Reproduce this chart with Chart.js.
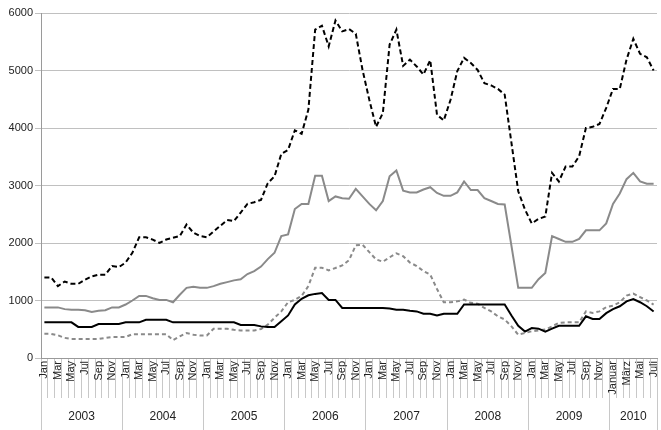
<!DOCTYPE html>
<html><head><meta charset="utf-8">
<script src="https://cdn.jsdelivr.net/npm/chart.js@4.4.1/dist/chart.umd.min.js"></script>
<style>html,body{margin:0;padding:0;background:#fff}#wrap{width:661px;height:430px;position:relative}</style>
</head><body><div id="wrap"><canvas id="c"></canvas></div>
<script>
const monthNames = ['Jan','Feb','Mar','Apr','May','Jun','Jul','Aug','Sep','Oct','Nov','Dec'];
const monthNames2010 = ['Januar','Februar','März','April','Mai','Juni','Juli'];
const years = ['2003','2004','2005','2006','2007','2008','2009','2010'];
const monthsPerYear = [12,12,12,12,12,12,12,7];
const yTicks = [0,1000,2000,3000,4000,5000,6000];

// black dashed
const seriesA = [1400,1400,1250,1330,1290,1290,1360,1420,1450,1450,1600,1580,
  1660,1830,2100,2100,2060,2000,2060,2090,2120,2320,2180,2120,
  2100,2200,2300,2400,2380,2530,2680,2710,2750,3040,3160,3550,
  3620,3960,3900,4320,5710,5780,5420,5870,5680,5720,5640,5010,
  4490,4020,4260,5450,5710,5080,5190,5070,4930,5180,4230,4130,
  4490,4990,5220,5130,5010,4780,4740,4680,4580,3740,2900,2580,
  2340,2420,2460,3220,3070,3330,3330,3510,4000,4020,4070,4350,
  4680,4680,5190,5550,5290,5230,5000];
// gray solid
const seriesB = [880,880,880,850,840,840,830,800,820,830,880,880,
  930,1000,1080,1080,1040,1010,1010,970,1100,1220,1240,1220,
  1220,1250,1290,1320,1350,1370,1460,1510,1590,1720,1830,2120,
  2150,2590,2680,2680,3170,3170,2730,2810,2780,2770,2940,2810,
  2680,2570,2730,3160,3260,2910,2880,2880,2930,2970,2870,2820,
  2820,2880,3070,2920,2920,2780,2730,2680,2670,1950,1220,1220,
  1220,1370,1480,2120,2070,2020,2020,2070,2220,2220,2220,2340,
  2680,2860,3110,3220,3070,3030,3030];
// black solid
const seriesC = [620,620,620,620,620,540,540,540,590,590,590,590,
  620,620,620,665,665,665,665,620,620,620,620,620,
  620,620,620,620,620,575,575,575,550,540,540,640,
  740,930,1030,1090,1115,1130,1010,1010,870,870,870,870,
  870,870,870,860,840,840,820,810,770,770,740,770,
  770,770,930,930,930,930,930,930,930,740,560,460,
  520,510,460,510,560,560,560,560,725,680,680,780,
  850,900,985,1025,970,900,810];
// gray dashed
const seriesD = [420,420,395,350,330,330,330,330,330,350,365,365,
  365,415,415,415,415,415,415,310,375,435,405,390,
  390,510,510,510,490,480,480,480,505,580,700,810,
  970,1010,1080,1250,1570,1570,1525,1565,1610,1700,1960,1970,
  1840,1715,1675,1750,1820,1770,1660,1600,1510,1450,1200,970,
  970,985,1015,960,945,870,810,725,670,550,405,435,
  465,480,495,550,610,620,620,620,810,785,810,885,
  910,970,1085,1120,1060,1000,930];

const monthLabels = [];
years.forEach((y, k) => {
  const names = (k === years.length - 1) ? monthNames2010 : monthNames;
  for (let m = 0; m < monthsPerYear[k]; m++) monthLabels.push(names[m]);
});

// year axis ticks: boundaries and centers
const yearTickValues = [], yearTickLabels = [], yearTickIsBoundary = [];
let start = 0;
years.forEach((y, k) => {
  yearTickValues.push(start - 0.5); yearTickLabels.push(''); yearTickIsBoundary.push(true);
  yearTickValues.push(start + (monthsPerYear[k] - 1) / 2); yearTickLabels.push(y); yearTickIsBoundary.push(false);
  start += monthsPerYear[k];
});
yearTickValues.push(start - 0.5); yearTickLabels.push(''); yearTickIsBoundary.push(true);

const FONT = 'Liberation Sans, Arial, sans-serif';
const lineBase = {pointRadius: 0, pointHoverRadius: 0, tension: 0, fill: false, borderWidth: 2};

new Chart(document.getElementById('c'), {
  type: 'line',
  data: {
    labels: monthLabels,
    datasets: [
      Object.assign({label: 'A', data: seriesA, borderColor: '#000', borderDash: [5,3]}, lineBase),
      Object.assign({label: 'B', data: seriesB, borderColor: '#8a8a8a'}, lineBase),
      Object.assign({label: 'C', data: seriesC, borderColor: '#000'}, lineBase),
      Object.assign({label: 'D', data: seriesD, borderColor: '#8a8a8a', borderDash: [4,3]}, lineBase)
    ]
  },
  options: {
    responsive: true,
    maintainAspectRatio: false,
    animation: false,
    layout: {padding: {top: 13, right: 4, left: 0, bottom: 0}},
    plugins: {legend: {display: false}, tooltip: {enabled: false}},
    scales: {
      x: {
        type: 'category',
        position: 'bottom',
        weight: 0,
        offset: true,
        grid: {offset: true, drawOnChartArea: false, drawTicks: true, tickLength: 40, color: '#c8c8c8', lineWidth: 1},
        border: {display: true, color: '#9a9a9a'},
        ticks: {
          autoSkip: false, minRotation: 90, maxRotation: 90, padding: -37,
          font: {family: FONT, size: 11}, color: '#222',
          callback: function(v, i) { return i % 2 === 0 ? monthLabels[i] : ''; }
        },
        afterFit: s => { s.height = 40; }
      },
      yr: {
        type: 'linear',
        position: 'bottom',
        weight: 1,
        min: -0.5, max: 90.5,
        bounds: 'data',
        afterBuildTicks: s => { s.ticks = yearTickValues.map(v => ({value: v})); },
        grid: {
          drawOnChartArea: false, drawTicks: true, tickLength: 32, lineWidth: 1,
          color: ctx => yearTickIsBoundary[ctx.index] ? '#c8c8c8' : 'rgba(0,0,0,0)'
        },
        border: {display: false},
        ticks: {
          autoSkip: false, maxRotation: 0, minRotation: 0, padding: -21,
          font: {family: FONT, size: 12}, color: '#222',
          callback: (v, i) => yearTickLabels[i]
        },
        afterFit: s => { s.height = 32; }
      },
      y: {
        min: 0, max: 6000,
        afterBuildTicks: s => { s.ticks = yTicks.map(v => ({value: v})); },
        grid: {color: '#c0c0c0', tickLength: 6, lineWidth: 1},
        border: {display: true, color: '#9a9a9a'},
        ticks: {padding: 2, font: {family: FONT, size: 11}, color: '#222', callback: v => String(v)},
        afterFit: s => { s.width = 41; }
      }
    }
  }
});
</script>
</body></html>
